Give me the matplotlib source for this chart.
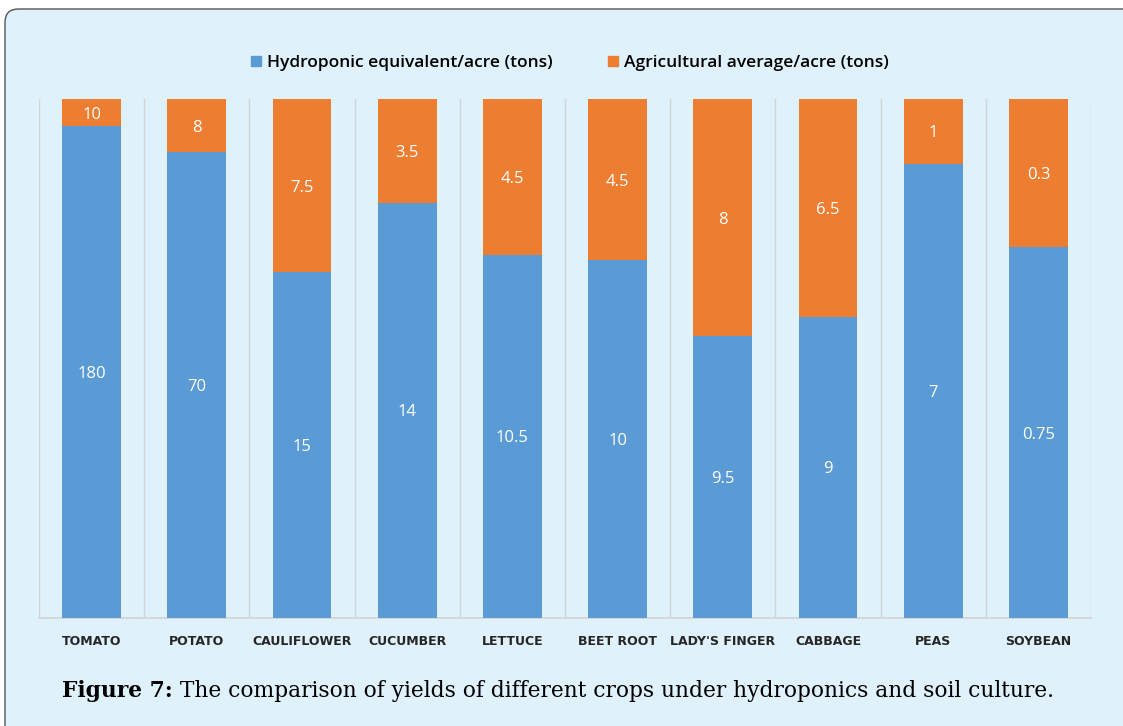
import matplotlib
matplotlib.use("Agg")
import matplotlib.pyplot as plt
from matplotlib.patches import FancyBboxPatch, Patch
import numpy as np

crops = ["TOMATO", "POTATO", "CAULIFLOWER", "CUCUMBER", "LETTUCE",
         "BEET ROOT", "LADY'S FINGER", "CABBAGE", "PEAS", "SOYBEAN"]
hydro = [180, 70, 15, 14, 10.5, 10, 9.5, 9, 7, 0.75]
agri = [10, 8, 7.5, 3.5, 4.5, 4.5, 8, 6.5, 1, 0.3]
series_names = ["Hydroponic equivalent/acre (tons)", "Agricultural average/acre (tons)"]
caption_bold = "Figure 7:"
caption_text = " The comparison of yields of different crops under hydroponics and soil culture."

BG = "#dff1fb"
BLUE = "#5b9bd5"
ORANGE = "#ed7d31"

W, H = 1123, 726
fig = plt.figure(figsize=(W / 100, H / 100), dpi=100)
fig.patch.set_facecolor("white")

# rounded panel background/border
panel = FancyBboxPatch((5 / W, -0.05), 1.2, (H - 9) / H + 0.05,
                       boxstyle="round,pad=0,rounding_size=0.012",
                       transform=fig.transFigure, facecolor=BG,
                       edgecolor="#555555", linewidth=1.0, zorder=-10,
                       mutation_aspect=W / H)
fig.patches.append(panel)

ax = fig.add_axes([39 / W, 1 - 618 / H, (1091 - 39) / W, (618 - 99) / H])
ax.set_zorder(2)
ax.set_facecolor("none")

h = np.array(hydro, dtype=float)
a = np.array(agri, dtype=float)
tot = h + a
hp = h / tot * 100
ap = a / tot * 100
x = np.arange(len(crops))
bw = 0.56
ax.bar(x, hp, width=bw, color=BLUE, zorder=3)
ax.bar(x, ap, bottom=hp, width=bw, color=ORANGE, zorder=3)

def fmt(v):
    return f"{v:g}"

for i in range(len(crops)):
    ax.text(x[i], hp[i] / 2, fmt(hydro[i]), ha="center", va="center_baseline",
            color="white", fontsize=12, family="Open Sans", zorder=4)
    ax.text(x[i], hp[i] + ap[i] / 2, fmt(agri[i]), ha="center", va="center_baseline",
            color="white", fontsize=12, family="Open Sans", zorder=4)

ax.set_xlim(-0.5, len(crops) - 0.5)
ax.set_ylim(0, 100)
for b in np.arange(-0.5, len(crops) + 0.5, 1):
    ax.axvline(b, color="#d4d4d4", linewidth=1.0, zorder=1)
for s in ["top", "right", "left"]:
    ax.spines[s].set_visible(False)
ax.spines["bottom"].set_color("#d4d4d4")
ax.spines["bottom"].set_linewidth(1.2)
ax.set_yticks([])
ax.set_xticks(x)
ax.set_xticklabels(crops, fontsize=9, fontweight="bold", family="DejaVu Sans",
                   color="#262626")
ax.tick_params(axis="x", length=0, pad=12)

handles = [Patch(color=BLUE), Patch(color=ORANGE)]
fig.legend(handles, series_names, loc="center", bbox_to_anchor=(570 / W, 1 - 63 / H),
           ncol=2, frameon=False, handlelength=0.55, handleheight=0.55,
           handletextpad=0.35, columnspacing=3.2,
           prop={"family": "Open Sans", "size": 12.5, "weight": "semibold"})

# caption
cap_y = 1 - 691 / H
t1 = fig.text(62 / W, cap_y, caption_bold, fontsize=15.7, fontweight="bold",
              family="DejaVu Serif", va="center", ha="left", color="black")
fig.canvas.draw()
bb = t1.get_window_extent()
fig.text(bb.x1 / W, cap_y, caption_text, fontsize=15.7, family="DejaVu Serif",
         va="center", ha="left", color="black")

fig.savefig("out.png", dpi=100, facecolor=fig.get_facecolor())
